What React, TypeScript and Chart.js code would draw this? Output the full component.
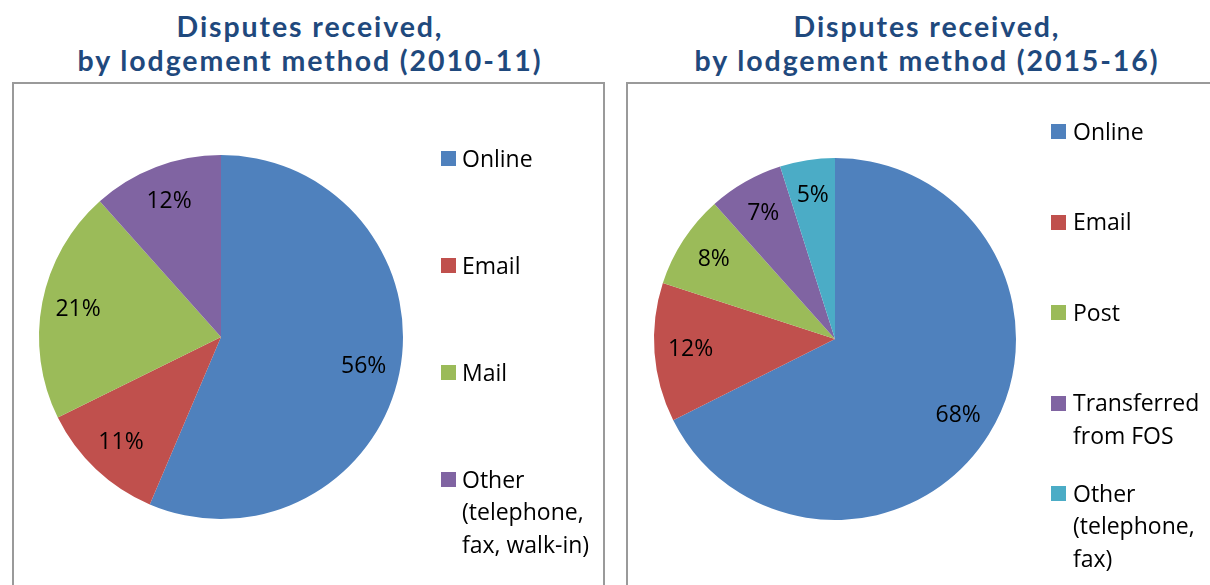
import React, { useEffect, useRef } from "react";
import { Chart, registerables } from "chart.js";

Chart.register(...registerables);

// ---- Data ----
const LEFT_TITLE = ["Disputes received,", "by lodgement method (2010-11)"];
const LEFT_LABELS = [["Online"], ["Email"], ["Mail"], ["Other", "(telephone,", "fax, walk-in)"]];
const LEFT_VALUES = [56.4, 11.3, 20.7, 11.6];

const RIGHT_TITLE = ["Disputes received,", "by lodgement method (2015-16)"];
const RIGHT_LABELS = [["Online"], ["Email"], ["Post"], ["Transferred", "from FOS"], ["Other", "(telephone,", "fax)"]];
const RIGHT_VALUES = [67.6, 12.4, 8.4, 6.7, 4.9];

const COLORS = ["#4F81BD", "#C0504D", "#9BBB59", "#8064A2", "#4BACC6"];

const LABEL_FONT = '"Open Sans", "Noto Sans", sans-serif';
const TITLE_FONT = 'Lato, "Open Sans", sans-serif';

const percentLabels = {
  id: "percentLabels",
  afterDatasetsDraw(chart: any) {
    const ctx = chart.ctx;
    const meta = chart.getDatasetMeta(0);
    const data = chart.data.datasets[0].data;
    ctx.save();
    ctx.font = `23px ${LABEL_FONT}`;
    ctx.fillStyle = "#000000";
    ctx.textAlign = "center";
    ctx.textBaseline = "middle";
    meta.data.forEach((arc: any, i: number) => {
      const p = arc.getProps(["x", "y", "startAngle", "endAngle", "outerRadius"], true);
      const mid = (p.startAngle + p.endAngle) / 2;
      const r = p.outerRadius * 0.8;
      const tx = p.x + Math.cos(mid) * r;
      const ty = p.y + Math.sin(mid) * r;
      ctx.fillText(`${Math.round(data[i])}%`, tx, ty);
    });
    ctx.restore();
  },
};

type PanelProps = {
  title: string[];
  labels: string[][];
  values: number[];
  boxLeft: number;
  boxTop: number;
  boxWidth: number;
  canvasWidth: number;
  canvasHeight: number;
  padding: { left: number; top: number; right: number; bottom: number };
  titleCenter: number;
  legendSquareX: number;
  legendTextX: number;
  legendTop: number;
  legendStep: number;
};

function Panel(props: PanelProps) {
  const ref = useRef<HTMLCanvasElement | null>(null);

  useEffect(() => {
    if (!ref.current) return;
    const chart = new Chart(ref.current, {
      type: "pie",
      data: {
        labels: props.labels,
        datasets: [
          {
            data: props.values,
            backgroundColor: COLORS.slice(0, props.values.length),
            borderWidth: 0,
            hoverOffset: 0,
            offset: 0,
          },
        ],
      },
      options: {
        responsive: false,
        maintainAspectRatio: false,
        animation: false,
        layout: { padding: props.padding },
        plugins: {
          legend: { display: false },
          tooltip: { enabled: false },
          title: { display: false },
        },
      },
      plugins: [percentLabels],
    });
    return () => chart.destroy();
  }, []);

  return (
    <>
      <div
        style={{
          position: "absolute",
          left: props.titleCenter - 300,
          width: 600,
          top: 9,
          textAlign: "center",
          fontFamily: TITLE_FONT,
          fontWeight: 700,
          fontSize: 28.5,
          letterSpacing: "1.9px",
          lineHeight: "34.4px",
          color: "#1F497D",
          whiteSpace: "nowrap",
        }}
      >
        {props.title.map((t, i) => (
          <div key={i}>{t}</div>
        ))}
      </div>
      <div
        style={{
          position: "absolute",
          left: props.boxLeft,
          top: props.boxTop,
          width: props.boxWidth,
          height: 600,
          border: "2px solid #9a9a9a",
          boxSizing: "border-box",
        }}
      />
      <canvas
        ref={ref}
        width={props.canvasWidth}
        height={props.canvasHeight}
        style={{
          position: "absolute",
          left: props.boxLeft,
          top: props.boxTop,
          width: props.canvasWidth,
          height: props.canvasHeight,
        }}
      />
      {props.labels.map((lines, i) => {
        const top = props.legendTop + i * props.legendStep;
        return (
          <React.Fragment key={i}>
            <div
              style={{
                position: "absolute",
                left: props.legendSquareX,
                top: top + 9.5,
                width: 15,
                height: 15,
                background: COLORS[i],
              }}
            />
            <div
              style={{
                position: "absolute",
                left: props.legendTextX,
                top,
                fontFamily: LABEL_FONT,
                fontSize: 23,
                lineHeight: "32.5px",
                color: "#000",
                whiteSpace: "nowrap",
              }}
            >
              {lines.map((l, j) => (
                <div key={j}>{l}</div>
              ))}
            </div>
          </React.Fragment>
        );
      })}
    </>
  );
}

export default function App() {
  return (
    <div
      style={{
        position: "absolute",
        left: 0,
        top: 0,
        width: 1210,
        height: 585,
        overflow: "hidden",
        background: "#ffffff",
      }}
    >
      <Panel
        title={LEFT_TITLE}
        labels={LEFT_LABELS}
        values={LEFT_VALUES}
        boxLeft={12}
        boxTop={82}
        boxWidth={593}
        canvasWidth={592}
        canvasHeight={503}
        padding={{ left: 27, top: 73, right: 201, bottom: 66 }}
        titleCenter={310}
        legendSquareX={441}
        legendTextX={462}
        legendTop={141.5}
        legendStep={107}
      />
      <Panel
        title={RIGHT_TITLE}
        labels={RIGHT_LABELS}
        values={RIGHT_VALUES}
        boxLeft={626}
        boxTop={82}
        boxWidth={600}
        canvasWidth={584}
        canvasHeight={503}
        padding={{ left: 28, top: 76, right: 194, bottom: 65 }}
        titleCenter={927}
        legendSquareX={1051}
        legendTextX={1073}
        legendTop={114.6}
        legendStep={90.5}
      />
    </div>
  );
}
